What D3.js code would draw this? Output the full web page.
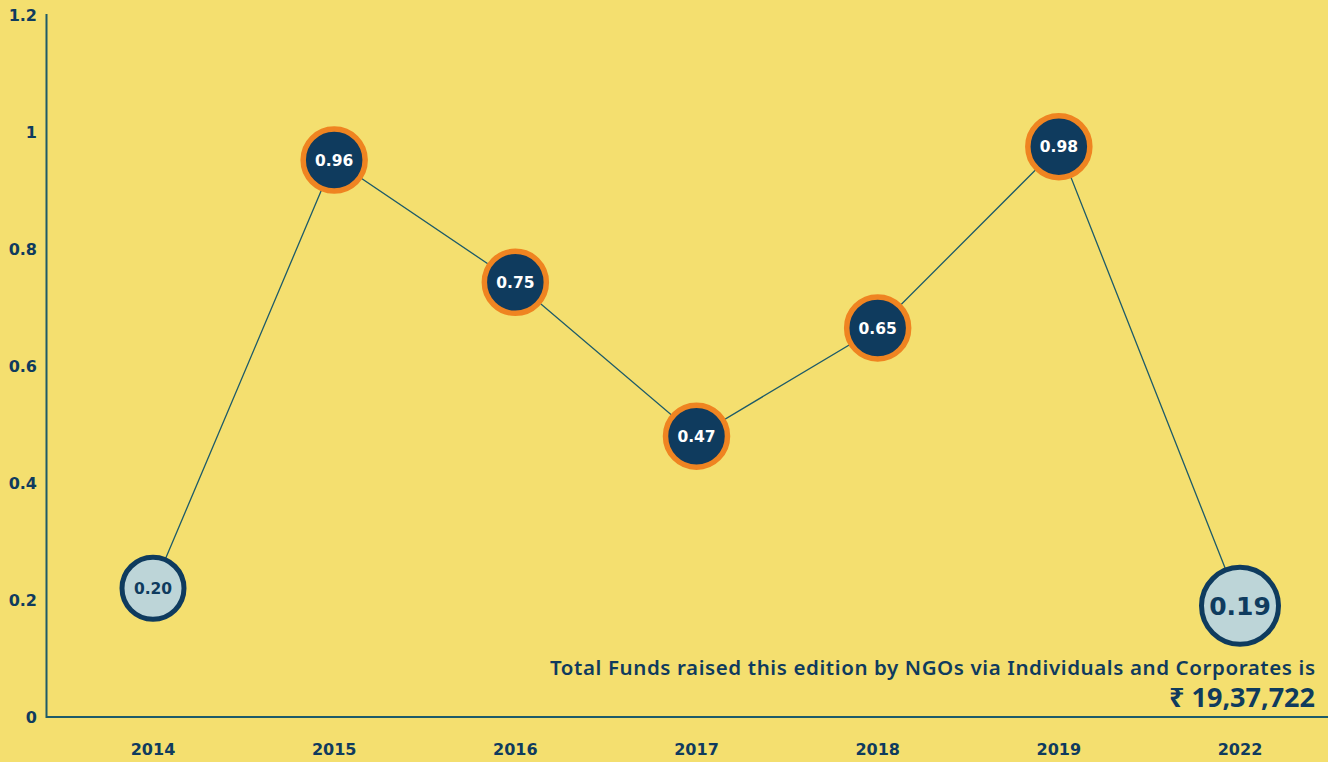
<!DOCTYPE html>
<html><head><meta charset="utf-8">
<script src="https://cdn.jsdelivr.net/npm/d3@7"></script>
<style>
html,body{margin:0;padding:0;background:#F4DF6F;}
svg{display:block;font-family:"Noto Sans","Open Sans",sans-serif;}
</style></head>
<body><svg id="c" width="1328" height="762"></svg>
<script>
const years = ["2014","2015","2016","2017","2018","2019","2022"];
const values = [0.22, 0.952, 0.743, 0.48, 0.665, 0.975, 0.19];
const labels = ["0.20","0.96","0.75","0.47","0.65","0.98","0.19"];
const kinds = ["past-light","past","past","past","past","past","current"];
const yTicks = [0, 0.2, 0.4, 0.6, 0.8, 1, 1.2];
const noteLine1 = "Total Funds raised this edition by NGOs via Individuals and Corporates is";
const noteLine2 = "₹ 19,37,722";

const svg = d3.select("#c");
const navy = "#0F3B5E", orange = "#EF8421", light = "#BDD5D8", axisCol = "#1D5B69";
const numFont = "'DejaVu Sans', sans-serif";

const x = d3.scalePoint().domain(years).range([153, 1240]);
const y = d3.scaleLinear().domain([0, 1.2]).range([717, 15]);

// axes lines
svg.append("line").attr("x1", 46.5).attr("x2", 46.5).attr("y1", 14).attr("y2", 718)
  .attr("stroke", axisCol).attr("stroke-width", 2);
svg.append("line").attr("x1", 46).attr("x2", 1328).attr("y1", 717).attr("y2", 717)
  .attr("stroke", axisCol).attr("stroke-width", 2);

// y tick labels
svg.selectAll(".yt").data(yTicks).enter().append("text")
  .attr("x", 37).attr("y", d => y(d)).attr("dy", "0.36em")
  .attr("text-anchor", "end").attr("font-size", 16).attr("font-weight", 700)
  .attr("font-family", numFont)
  .attr("fill", navy).text(d => d3.format("~g")(d));

// x tick labels
svg.selectAll(".xt").data(years).enter().append("text")
  .attr("x", d => x(d)).attr("y", 755)
  .attr("text-anchor", "middle").attr("font-size", 16).attr("font-weight", 700)
  .attr("font-family", numFont)
  .attr("fill", navy).text(d => d);

// connecting line
const pts = years.map((yr, i) => ({yr, v: values[i], label: labels[i], kind: kinds[i]}));
svg.append("path").datum(pts)
  .attr("d", d3.line().x(d => x(d.yr)).y(d => y(d.v)))
  .attr("fill", "none").attr("stroke", axisCol).attr("stroke-width", 1.3);

// circles
const g = svg.selectAll(".pt").data(pts).enter().append("g")
  .attr("transform", d => `translate(${x(d.yr)},${y(d.v)})`);
g.append("circle")
  .attr("r", d => d.kind === "current" ? 38.5 : 31)
  .attr("fill", d => d.kind === "past" ? navy : light)
  .attr("stroke", d => d.kind === "past" ? orange : navy)
  .attr("stroke-width", d => d.kind === "current" ? 5 : (d.kind === "past" ? 5.5 : 5));
g.append("text")
  .attr("text-anchor", "middle").attr("dy", "0.36em")
  .attr("font-weight", 700).attr("font-family", numFont)
  .attr("font-size", d => d.kind === "current" ? 25 : 15.5)
  .attr("fill", d => d.kind === "past" ? "#ffffff" : navy)
  .text(d => d.label);

// annotation
svg.append("text").attr("x", 1315).attr("y", 675).attr("text-anchor", "end")
  .attr("font-size", 20.5).attr("font-weight", 600).attr("fill", navy)
  .attr("textLength", 765).attr("lengthAdjust", "spacing").text(noteLine1);
svg.append("text").attr("x", 1315).attr("y", 707).attr("text-anchor", "end")
  .attr("font-size", 27).attr("font-weight", 700).attr("fill", navy).text(noteLine2);
</script></body></html>
